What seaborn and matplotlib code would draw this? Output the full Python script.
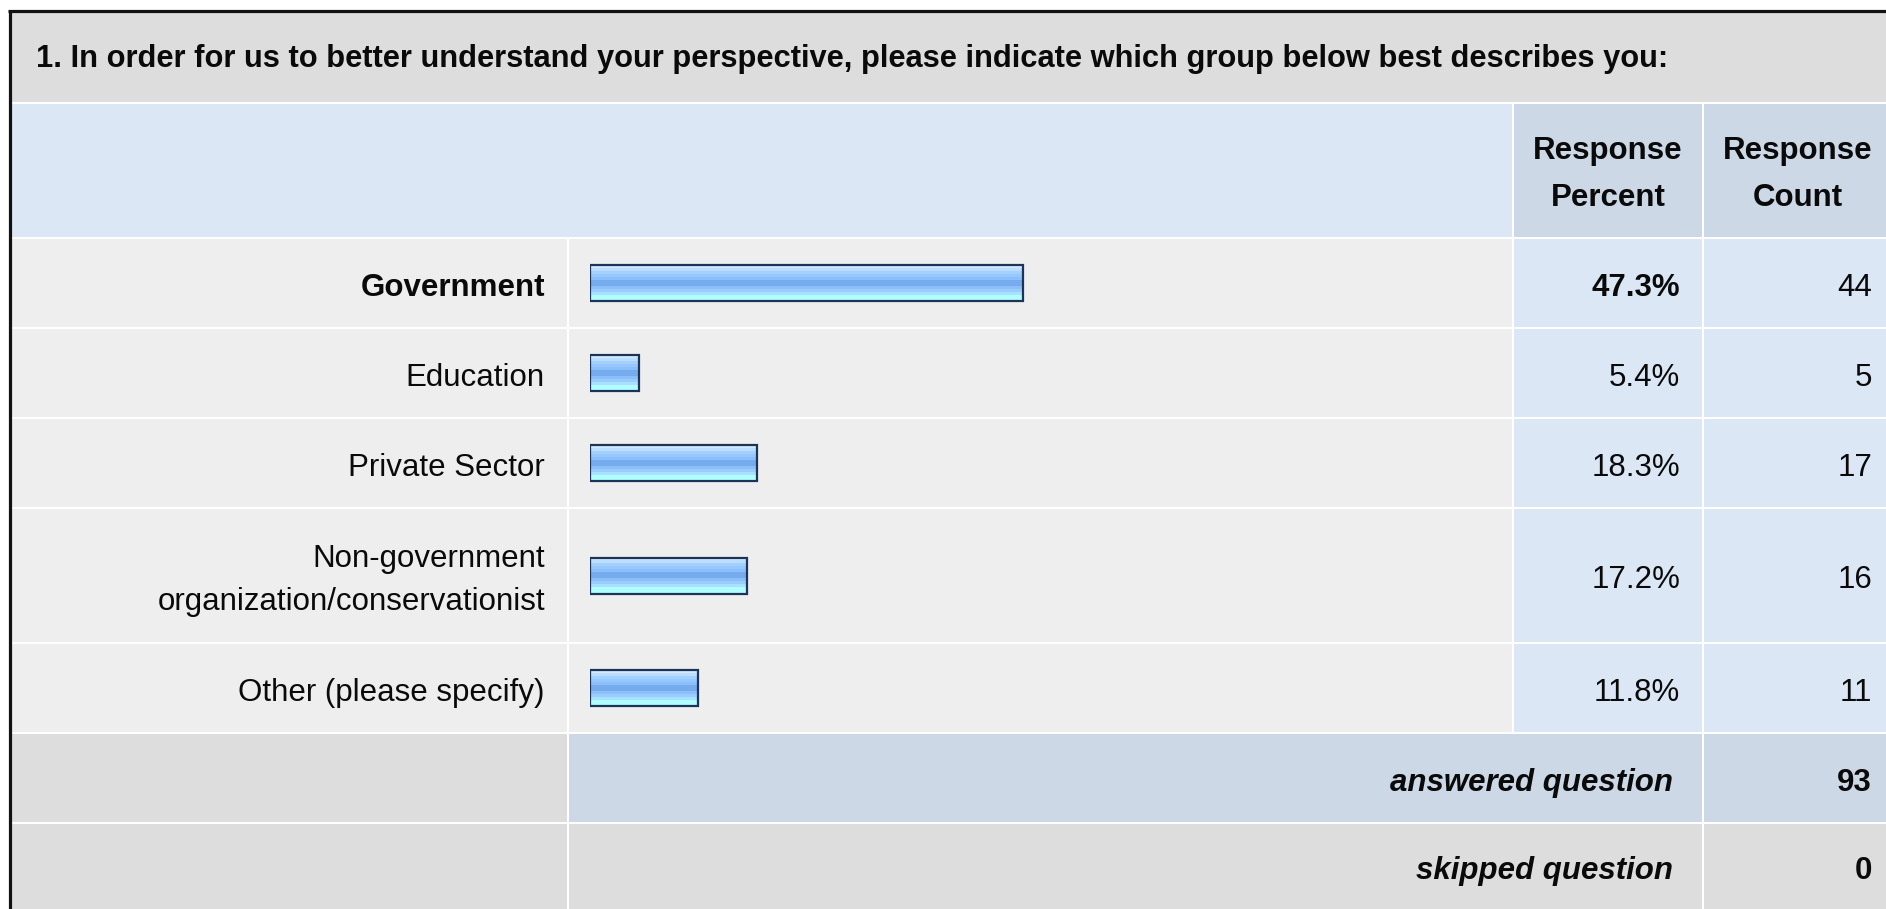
import numpy as np
import pandas as pd
import matplotlib
matplotlib.use("Agg")
import matplotlib.pyplot as plt
from matplotlib.patches import Rectangle
from matplotlib.colors import to_rgb
import seaborn as sns

# ---------------- data ----------------
question = ("1. In order for us to better understand your perspective, "
            "please indicate which group below best describes you:")
categories = ["Government", "Education", "Private Sector",
              "Non-government\norganization/conservationist",
              "Other (please specify)"]
percents = [47.3, 5.4, 18.3, 17.2, 11.8]
counts = [44, 5, 17, 16, 11]
answered = 93
skipped = 0
header_pct = "Response\nPercent"
header_cnt = "Response\nCount"

# ---------------- style ----------------
sns.set_theme(style="white")
plt.rcParams["font.family"] = ["Liberation Sans", "DejaVu Sans"]

W, H = 1886, 909
fig = plt.figure(figsize=(W / 100, H / 100), dpi=100)
fig.patch.set_facecolor("white")

bg = fig.add_axes([0, 0, 1, 1])
bg.set_xlim(0, W)
bg.set_ylim(H, 0)
bg.axis("off")

C_TITLE = "#DDDDDD"
C_HEAD = "#DCE7F5"
C_HEAD2 = "#CCD8E6"
C_ROW = "#EEEEEE"
C_ROWV = "#DCE7F5"
C_GRAY = "#DDDDDD"
TXT = "#0A0A0A"

# grid lines (pixels)
xs = [11, 568, 1513, 1703, 1900]
ys_rows = [238, 328, 418, 508, 643, 733]
y_title = (11, 103)
y_head = (103, 238)
y_ans = (733, 823)
y_skip = (823, 915)
GAP = 1.0


def cell(x0, x1, y0, y1, color):
    bg.add_patch(Rectangle((x0 + GAP, y0 + GAP), (x1 - x0) - 2 * GAP,
                           (y1 - y0) - 2 * GAP, facecolor=color,
                           edgecolor="none", zorder=1))


FS = 22.5
DY = 5
# title
cell(xs[0], xs[-1], *y_title, C_TITLE)
bg.text(36, (y_title[0] + y_title[1]) / 2 + 2.5, question, fontsize=22.2,
        fontweight="bold", ha="left", va="center", color=TXT, zorder=5)

# header
cell(xs[0], xs[2], *y_head, C_HEAD)
cell(xs[2], xs[3], *y_head, C_HEAD2)
cell(xs[3], xs[4], *y_head, C_HEAD2)
hy = (y_head[0] + y_head[1]) / 2 + 4
bg.text(1608, hy, header_pct, fontsize=FS, fontweight="bold", ha="center",
        va="center", linespacing=1.7, color=TXT, zorder=5)
bg.text(1798, hy, header_cnt, fontsize=FS, fontweight="bold", ha="center",
        va="center", linespacing=1.7, color=TXT, zorder=5)

# data rows
centers = []
for i, (lab, pct, cnt) in enumerate(zip(categories, percents, counts)):
    y0, y1 = ys_rows[i], ys_rows[i + 1]
    cy = (y0 + y1) / 2
    centers.append(cy)
    cell(xs[0], xs[1], y0, y1, C_ROW)
    cell(xs[1], xs[2], y0, y1, C_ROW)
    cell(xs[2], xs[3], y0, y1, C_ROWV)
    cell(xs[3], xs[4], y0, y1, C_ROWV)
    bold = "bold" if i == 0 else "normal"
    bg.text(545, cy + DY, lab, fontsize=FS, fontweight=bold, ha="right",
            va="center", linespacing=1.55, color=TXT, zorder=5)
    bg.text(1680, cy + DY, f"{pct:.1f}%", fontsize=FS, fontweight=bold,
            ha="right", va="center", color=TXT, zorder=5)
    bg.text(1872, cy + DY, f"{cnt}", fontsize=FS, ha="right", va="center",
            color=TXT, zorder=5)

# answered / skipped
cell(xs[0], xs[1], *y_ans, C_GRAY)
cell(xs[1], xs[3], *y_ans, C_HEAD2)
cell(xs[3], xs[4], *y_ans, C_HEAD2)
cell(xs[0], xs[1], *y_skip, C_GRAY)
cell(xs[1], xs[3], *y_skip, C_GRAY)
cell(xs[3], xs[4], *y_skip, C_GRAY)
ay = (y_ans[0] + y_ans[1]) / 2 + DY
sy = (y_skip[0] + y_skip[1]) / 2 + 2
bg.text(1673, ay, "answered question", fontsize=FS, fontweight="bold",
        fontstyle="italic", ha="right", va="center", color=TXT, zorder=5)
bg.text(1872, ay, f"{answered}", fontsize=FS, fontweight="bold", ha="right",
        va="center", color=TXT, zorder=5)
bg.text(1673, sy, "skipped question", fontsize=FS, fontweight="bold",
        fontstyle="italic", ha="right", va="center", color=TXT, zorder=5)
bg.text(1872, sy, f"{skipped}", fontsize=FS, fontweight="bold", ha="right",
        va="center", color=TXT, zorder=5)

# outer border (top and left)
bg.plot([9.5, 9.5], [10.5, H + 5], color="#111111", lw=2.3, zorder=6,
        solid_capstyle="butt")
bg.plot([8, W + 5], [10.5, 10.5], color="#111111", lw=2.3, zorder=6,
        solid_capstyle="butt")

# ---------------- bars ----------------
grad_hex = ["#D2E9FF", "#BCDDFF", "#A2D0FF", "#96C8FF", "#8BBFFA", "#76ACEE",
            "#76ACEE", "#8BBFFA", "#9ACCFF", "#A6E2FF", "#B0FCFF", "#B0FFFF"]
grad = np.array([to_rgb(c) for c in grad_hex])[:, None, :]

BAR_X0 = 590
BAR_FULL = 915      # pixels for 100 %
AX_H = 50
BAR_H = 36
for i, pct in enumerate(percents):
    cy = centers[i]
    ax = fig.add_axes([BAR_X0 / W, 1 - (cy + AX_H / 2) / H,
                       BAR_FULL / W, AX_H / H])
    df = pd.DataFrame({"cat": [categories[i]], "pct": [pct]})
    sns.barplot(data=df, x="pct", y="cat", orient="h", ax=ax,
                width=BAR_H / AX_H, color="#99CCFF",
                edgecolor="#1B3458", linewidth=1.6)
    for p in ax.patches:
        x0, y0 = p.get_x(), p.get_y()
        w, h = p.get_width(), p.get_height()
        im = ax.imshow(grad, extent=(x0, x0 + w, y0 + h, y0), aspect="auto",
                       interpolation="nearest", origin="upper", zorder=2)
        im.set_clip_path(p)
        p.set_facecolor("none")
        p.set_zorder(3)
    ax.set_xlim(0, 100)
    ax.set_ylim(0.5, -0.5)
    ax.axis("off")
    ax.patch.set_alpha(0)

fig.savefig("out.png", dpi=100, facecolor="white")
